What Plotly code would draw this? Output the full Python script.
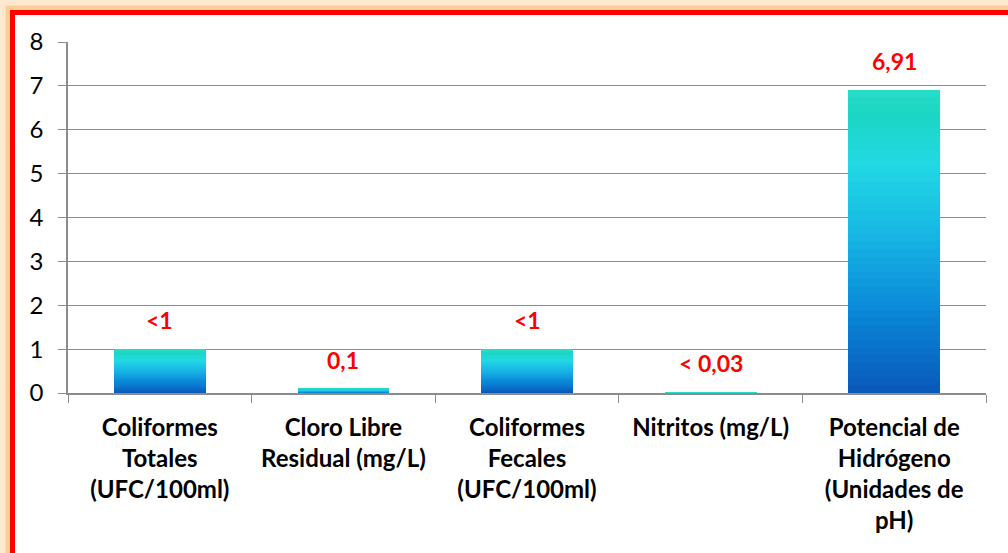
import plotly.graph_objects as go

categories = [
    "Coliformes<br>Totales<br>(UFC/100ml)",
    "Cloro Libre<br>Residual (mg/L)",
    "Coliformes<br>Fecales<br>(UFC/100ml)",
    "Nitritos (mg/L)",
    "Potencial de<br>Hidrógeno<br>(Unidades de<br>pH)",
]
values = [1, 0.1, 1, 0.02, 6.91]
value_labels = ["<1", "0,1", "<1", "< 0,03", "6,91"]
y_ticks = [0, 1, 2, 3, 4, 5, 6, 7, 8]

# gradient stops (bottom -> top)
stops = [(0.0, (10, 88, 184)), (0.25, (10, 132, 214)), (0.5, (22, 178, 228)),
         (0.75, (34, 216, 228)), (0.92, (28, 214, 196)), (1.0, (40, 220, 200))]

def grad(t):
    for (t0, c0), (t1, c1) in zip(stops[:-1], stops[1:]):
        if t0 <= t <= t1:
            f = (t - t0) / (t1 - t0)
            return "rgb(%d,%d,%d)" % tuple(round(a + (b - a) * f) for a, b in zip(c0, c1))
    return "rgb(%d,%d,%d)" % stops[-1][1]

N = 40
fig = go.Figure()
for i in range(N):
    fig.add_trace(go.Bar(
        x=categories,
        y=[v / N for v in values],
        marker=dict(color=grad((i + 0.5) / N), line=dict(width=0)),
        showlegend=False,
        hoverinfo="skip",
    ))

for c, v, t in zip(categories, values, value_labels):
    fig.add_annotation(x=c, y=v, text="<b>%s</b>" % t, showarrow=False,
                       yshift=29, font=dict(color="#ff0000", size=23, family="Lato"))

L, R, T, B = 68, 22, 42, 160
W, H = 1008, 553
pw, ph = W - L - R, H - T - B

def xp(px):
    return (px - L) / pw

def yp(py):
    return (H - B - py) / ph

shapes = []
# glow
for off, col, w in [(3, "rgba(253,233,208,1)", 6), (8, "rgba(251,206,150,1)", 5)]:
    shapes.append(dict(type="rect", xref="paper", yref="paper",
                       x0=xp(off), x1=xp(W + 40), y0=yp(H + 40), y1=yp(off),
                       line=dict(color=col, width=w), fillcolor="rgba(0,0,0,0)", layer="below"))
# red border
shapes.append(dict(type="rect", xref="paper", yref="paper",
                   x0=xp(12.5), x1=xp(W + 40), y0=yp(H + 40), y1=yp(12.5),
                   line=dict(color="#ff0000", width=5), fillcolor="rgba(0,0,0,0)", layer="above"))

fig.update_layout(
    barmode="stack",
    bargap=0.5,
    width=W, height=H,
    margin=dict(l=L, r=R, t=T, b=B, autoexpand=False),
    paper_bgcolor="white",
    plot_bgcolor="white",
    font=dict(family="Lato", color="black"),
    shapes=shapes,
)
fig.update_yaxes(
    range=[0, 8], tickvals=y_ticks, showgrid=True, gridcolor="#8c8c8c", gridwidth=1.3,
    showline=True, linecolor="#8c8c8c", linewidth=1.5,
    ticks="outside", ticklen=8, tickcolor="#8c8c8c", tickwidth=1.3,
    tickfont=dict(size=24, family="Lato", color="black"), ticklabelstandoff=10,
    zeroline=False, automargin=False,
)
fig.update_xaxes(
    showline=True, linecolor="#8c8c8c", linewidth=1.5,
    ticks="outside", ticklen=8, tickcolor="#8c8c8c", tickwidth=1.3, tickson="boundaries",
    tickfont=dict(size=24, family="Lato", color="black"), tickangle=0, automargin=False,
    ticklabelstandoff=12,
)
fig.update_xaxes(tickvals=categories, ticktext=["<b>%s</b>" % c for c in categories])
fig.write_html("out.html", config={"displayModeBar": False},
               post_script="document.body.style.margin='0';document.body.style.overflow='hidden';")
